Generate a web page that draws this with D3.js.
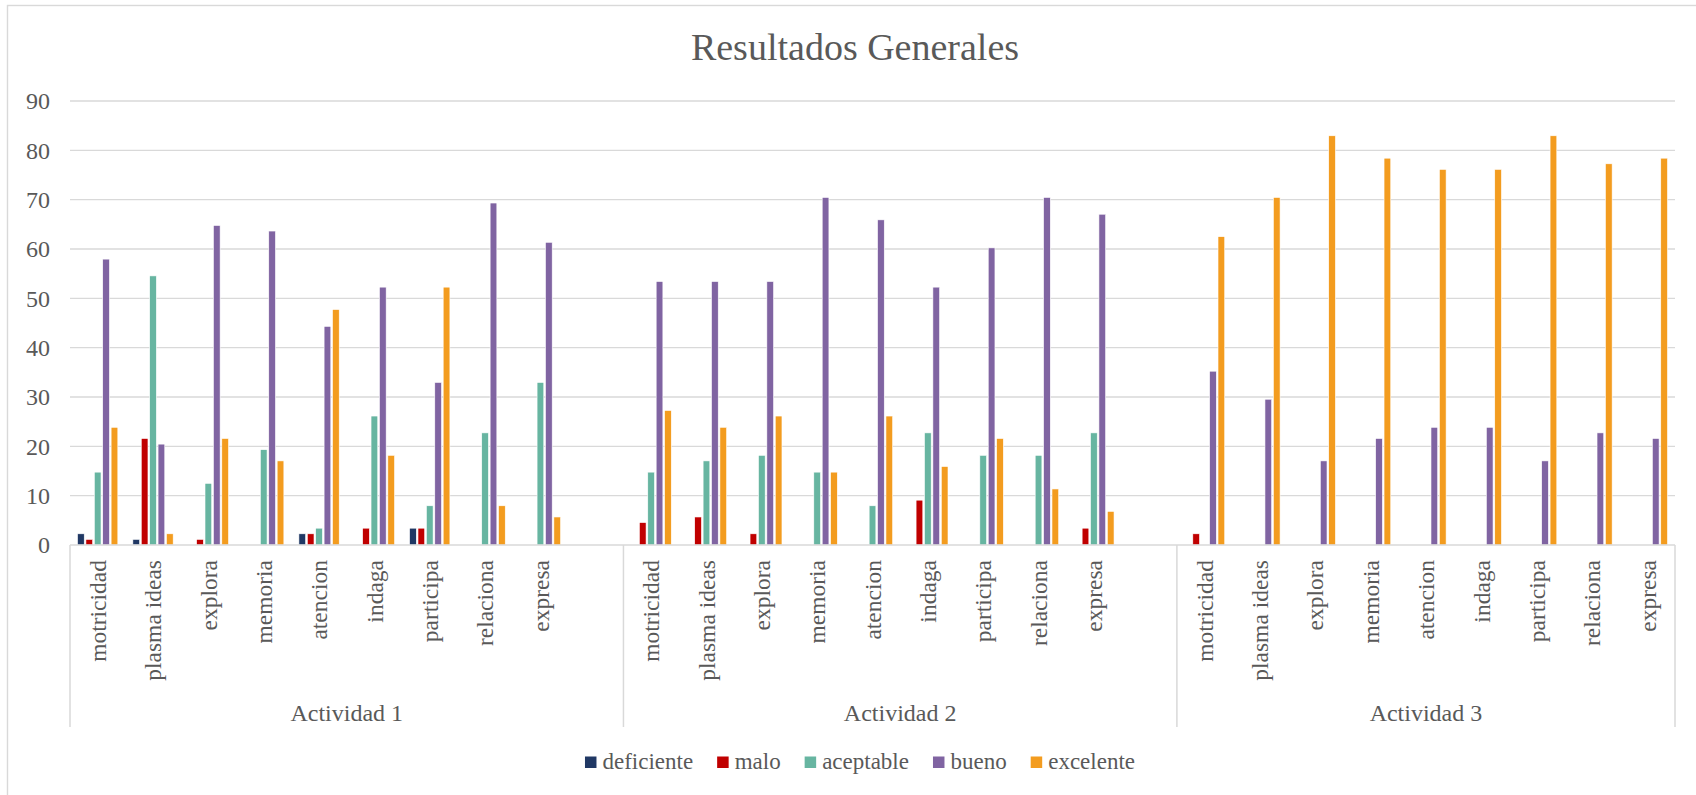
<!DOCTYPE html>
<html lang="es">
<head>
<meta charset="UTF-8">
<title>Resultados Generales</title>
<script src="https://d3js.org/d3.v7.min.js"></script>
<style>
body{
	margin: 0;
	background-color: #fff;
}
svg text{
	font-family: "Liberation Serif", "DejaVu Serif", serif;
	fill: #595959;
}
</style>
</head>
<body>

<svg width="1696" height="795"></svg>

<script>
const groups = ['Actividad 1', 'Actividad 2', 'Actividad 3'];
const categories = ['motricidad', 'plasma ideas', 'explora', 'memoria', 'atencion', 'indaga', 'participa', 'relaciona', 'expresa'];
const seriesNames = ['deficiente', 'malo', 'aceptable', 'bueno', 'excelente'];
const yTicks = [0, 10, 20, 30, 40, 50, 60, 70, 80, 90];

// values in group order: Actividad 1 (9), Actividad 2 (9), Actividad 3 (9)
const deficiente = [2.27, 1.14, 0, 0, 2.27, 0, 3.41, 0, 0,
                    0, 0, 0, 0, 0, 0, 0, 0, 0,
                    0, 0, 0, 0, 0, 0, 0, 0, 0];
const malo = [1.14, 21.59, 1.14, 0, 2.27, 3.41, 3.41, 0, 0,
              4.55, 5.68, 2.27, 0, 0, 9.09, 0, 0, 3.41,
              2.27, 0, 0, 0, 0, 0, 0, 0, 0];
const aceptable = [14.77, 54.55, 12.5, 19.32, 3.41, 26.14, 7.95, 22.73, 32.95,
                   14.77, 17.05, 18.18, 14.77, 7.95, 22.73, 18.18, 18.18, 22.73,
                   0, 0, 0, 0, 0, 0, 0, 0, 0];
const bueno = [57.95, 20.45, 64.77, 63.64, 44.32, 52.27, 32.95, 69.32, 61.36,
               53.41, 53.41, 53.41, 70.45, 65.91, 52.27, 60.23, 70.45, 67.05,
               35.23, 29.55, 17.05, 21.59, 23.86, 23.86, 17.05, 22.73, 21.59];
const excelente = [23.86, 2.27, 21.59, 17.05, 47.73, 18.18, 52.27, 7.95, 5.68,
                   27.27, 23.86, 26.14, 14.77, 26.14, 15.91, 21.59, 11.36, 6.82,
                   62.5, 70.45, 82.95, 78.41, 76.14, 76.14, 82.95, 77.27, 78.41];

const seriesValues = [deficiente, malo, aceptable, bueno, excelente];
const colors = ['#203864', '#C00000', '#67B5A1', '#8064A2', '#F39C1F'];
const serif = '"Liberation Serif", "DejaVu Serif", serif';

const svg = d3.select('svg');
const plotLeft = 70, plotRight = 1675, plotTop = 101, plotBottom = 545;

// chart border (only top and left fall inside the picture)
svg.append('rect')
  .attr('x', 7.5).attr('y', 5.5)
  .attr('width', 1720).attr('height', 820)
  .attr('fill', 'none').attr('stroke', '#d9d9d9').attr('stroke-width', 1.4);

svg.append('text')
  .attr('x', 855).attr('y', 60)
  .attr('text-anchor', 'middle')
  .attr('font-family', serif)
  .style('font-size', '38px')
  .text('Resultados Generales');

// slots: every group gets its categories, groups 1 and 2 end with an empty slot
const slots = [];
groups.forEach((g, gi) => {
  categories.forEach((c, ci) => slots.push({group: g, cat: c, key: g + '|' + c, idx: gi * categories.length + ci}));
  if (gi < groups.length - 1) slots.push({group: g, cat: '', key: g + '|blank', idx: -1});
});

const x0 = d3.scaleBand().domain(slots.map(d => d.key)).range([plotLeft, plotRight]);
const slotW = x0.bandwidth();
const x1 = d3.scaleBand().domain(seriesNames)
  .range([(slotW - 42) / 2, (slotW + 42) / 2])
  .paddingInner(0.2).paddingOuter(0.1);
const y = d3.scaleLinear().domain([0, 90]).range([plotBottom, plotTop]);

// gridlines
svg.append('g').selectAll('line').data(yTicks.filter(t => t > 0)).enter().append('line')
  .attr('x1', plotLeft).attr('x2', plotRight)
  .attr('y1', d => y(d)).attr('y2', d => y(d))
  .attr('stroke', '#d9d9d9').attr('stroke-width', 1.3);

svg.append('g').selectAll('text').data(yTicks).enter().append('text')
  .attr('x', 50).attr('y', d => y(d)).attr('dy', '0.35em')
  .attr('text-anchor', 'end')
  .attr('font-family', serif)
  .style('font-size', '24px')
  .text(d => d);

// bars
const slotG = svg.append('g').selectAll('g').data(slots.filter(d => d.idx >= 0)).enter().append('g')
  .attr('transform', d => `translate(${x0(d.key)},0)`);

slotG.selectAll('rect')
  .data(d => seriesNames.map((s, si) => ({s: s, si: si, v: seriesValues[si][d.idx]})).filter(b => b.v > 0))
  .enter().append('rect')
  .attr('x', b => x1(b.s))
  .attr('width', x1.bandwidth())
  .attr('y', b => y(b.v))
  .attr('height', b => y(0) - y(b.v))
  .attr('fill', b => colors[b.si])
  .attr('stroke', '#fff').attr('stroke-width', 0.6);

// category axis
svg.append('line')
  .attr('x1', plotLeft).attr('x2', plotRight).attr('y1', plotBottom).attr('y2', plotBottom)
  .attr('stroke', '#d9d9d9').attr('stroke-width', 1.5);

svg.append('g').selectAll('text').data(slots.filter(d => d.cat !== '')).enter().append('text')
  .attr('transform', d => `translate(${x0(d.key) + slotW / 2},560) rotate(-90)`)
  .attr('dy', '0.35em')
  .attr('text-anchor', 'end')
  .attr('font-family', serif)
  .style('font-size', '23.5px')
  .text(d => d.cat);

// group separators and labels
const groupBounds = groups.map(g => {
  const s = slots.filter(d => d.group === g);
  return {g: g, x0: x0(s[0].key), x1: x0(s[s.length - 1].key) + slotW};
});
const sepX = [groupBounds[0].x0].concat(groupBounds.map(d => d.x1));

svg.append('g').selectAll('line').data(sepX).enter().append('line')
  .attr('x1', d => d).attr('x2', d => d)
  .attr('y1', plotBottom).attr('y2', 727)
  .attr('stroke', '#d9d9d9').attr('stroke-width', 1.5);

svg.append('g').selectAll('text').data(groupBounds).enter().append('text')
  .attr('x', d => (d.x0 + d.x1) / 2).attr('y', 721)
  .attr('text-anchor', 'middle')
  .attr('font-family', serif)
  .style('font-size', '24px')
  .text(d => d.g);

// legend
const legend = svg.append('g');
const items = legend.selectAll('g').data(seriesNames).enter().append('g');
items.append('rect')
  .attr('width', 11.5).attr('height', 11.5)
  .attr('y', 756.5)
  .attr('fill', (d, i) => colors[i]);
items.append('text')
  .attr('x', 17.5).attr('y', 769)
  .attr('font-family', serif)
  .style('font-size', '23px')
  .text(d => d);

const widths = [];
items.each(function() {
  widths.push(17.5 + this.querySelector('text').getComputedTextLength());
});
const total = d3.sum(widths) + 24 * (widths.length - 1);
let pos = 860 - total / 2;
items.attr('transform', (d, i) => {
  const t = `translate(${pos},0)`;
  pos += widths[i] + 24;
  return t;
});
</script>

</body>
</html>
